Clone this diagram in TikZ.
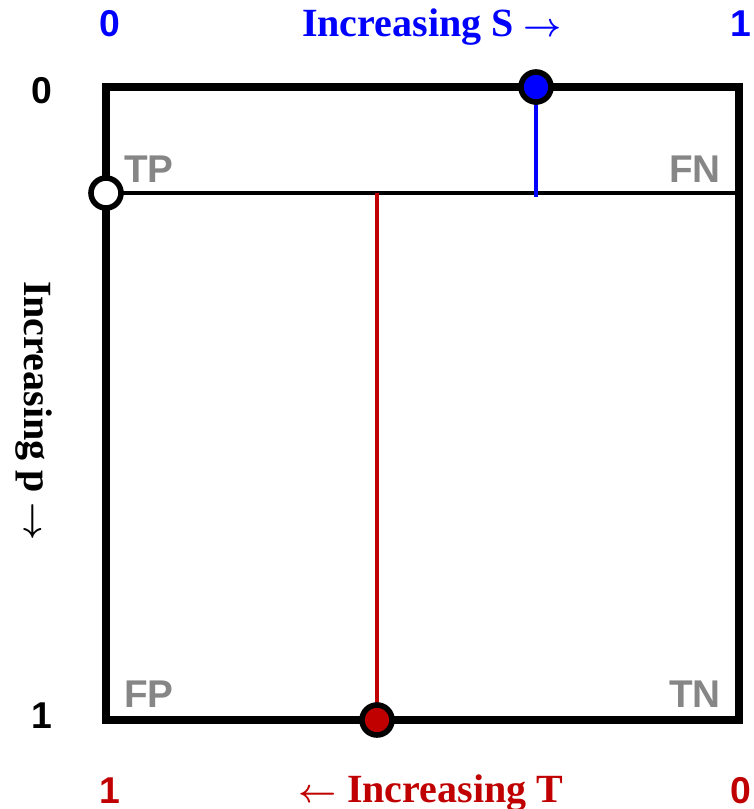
\documentclass[tikz,border=0pt]{standalone}
\usepackage{fontspec}
\setmainfont{Liberation Serif}
\setsansfont{Liberation Sans}
\pgfdeclarelayer{lines}
\pgfsetlayers{lines,main}
\newcommand{\rarr}{{\boldmath$\rightarrow$}}
\newcommand{\larr}{{\boldmath$\leftarrow$}}
\begin{document}
\begin{tikzpicture}[x=0.75pt,y=-0.75pt,
  frame/.style={line width=6pt, line join=miter, line cap=rect},
  cutline/.style={line width=3.2pt},
  marker/.style={circle, draw=black, line width=4.2pt, inner sep=0pt, minimum size=22.5pt},
  cell/.style={font=\sffamily\bfseries\fontsize{29}{32}\selectfont, text=cellgray, inner sep=0pt, anchor=base west},
  tick/.style={font=\sffamily\bfseries\fontsize{28}{32}\selectfont, inner sep=0pt, anchor=base},
  axis/.style={font=\rmfamily\bfseries\fontsize{30}{34}\selectfont, inner sep=0pt, anchor=base}
]
\definecolor{sblue}{RGB}{0,0,255}
\definecolor{tred}{RGB}{192,0,0}
\definecolor{cellgray}{RGB}{134,134,134}
\useasboundingbox (0,0) rectangle (753,809);

% corners of the square and free line ends
\coordinate (tl) at (106,87);
\coordinate (tr) at (739,87);
\coordinate (br) at (739,720);
\coordinate (bl) at (106,720);
\coordinate (cutR) at (739,193);
\coordinate (sEnd) at (536,197);
\coordinate (tEnd) at (377,193);

% markers
\node[marker, fill=white] (p) at (106,193) {};
\node[marker, fill=sblue] (s) at (536,87) {};
\node[marker, fill=tred] (t) at (377,720) {};

% lines and frame, kept beneath the markers
\begin{pgfonlayer}{lines}
\draw[cutline] (p.center) -- (cutR);
\draw[line width=3pt, sblue] (s.center) -- (sEnd);
\draw[line width=2.8pt, tred] (t.center) -- (tEnd);
\draw[frame] (tl) -- (tr) -- (br) -- (bl) -- cycle;
\end{pgfonlayer}

% cell labels
\node[cell] (TP) at (124,183) {TP};
\node[cell, anchor=base east] (FN) at (721,183) {FN};
\node[cell] (FP) at (124,707) {FP};
\node[cell, anchor=base east] (TN) at (721,707) {TN};

% S axis (top)
\node[tick, text=sblue] (s0) at (110,37) {0};
\node[tick, text=sblue] (s1) at (741,37) {1};
\node[axis, text=sblue] (sLab) at (432,37) {Increasing S \rarr};

% p axis (left)
\node[tick] (p0) at (42,104) {0};
\node[tick] (p1) at (42,728) {1};
\node[axis, rotate=-90] (pLab) at (24,411) {Increasing p \rarr};

% T axis (bottom)
\node[tick, text=tred] (t1) at (110,803) {1};
\node[tick, text=tred] (t0) at (741,803) {0};
\node[axis, text=tred] (tLab) at (431,802) {\larr\ Increasing T};
\end{tikzpicture}
\end{document}
